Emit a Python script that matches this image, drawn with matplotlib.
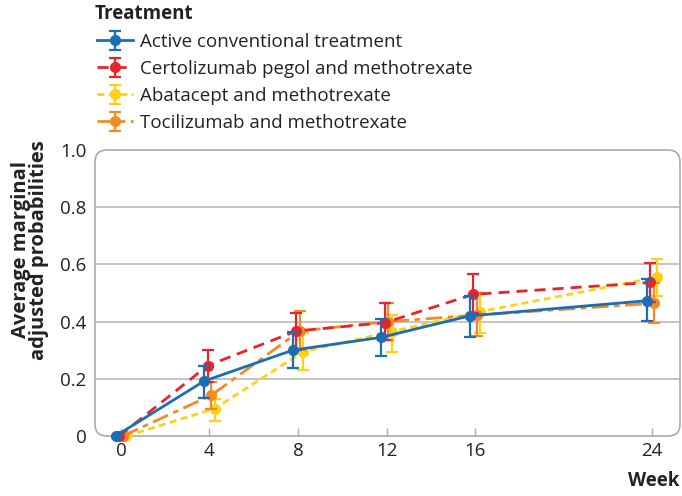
import matplotlib.pyplot as plt
import numpy as np
from matplotlib.patches import FancyBboxPatch

plt.rcParams['font.family'] = ['Open Sans', 'DejaVu Sans']

# weeks and average marginal adjusted probabilities
weeks = [0, 4, 8, 12, 16, 24]
names = ['Active conventional treatment', 'Certolizumab pegol and methotrexate',
         'Abatacept and methotrexate', 'Tocilizumab and methotrexate']

active = [0, 0.192, 0.300, 0.345, 0.420, 0.473]
active_lo = [np.nan, 0.134, 0.237, 0.280, 0.347, 0.402]
active_hi = [np.nan, 0.245, 0.365, 0.409, 0.490, 0.549]

certo = [0, 0.246, 0.367, 0.396, 0.495, 0.537]
certo_lo = [np.nan, 0.190, 0.300, 0.336, 0.430, 0.470]
certo_hi = [np.nan, 0.300, 0.431, 0.464, 0.565, 0.606]

abata = [0, 0.096, 0.295, 0.365, 0.435, 0.555]
abata_lo = [np.nan, 0.054, 0.231, 0.293, 0.360, 0.490]
abata_hi = [np.nan, 0.130, 0.360, 0.423, 0.500, 0.619]

toci = [0, 0.142, 0.367, 0.400, 0.423, 0.464]
toci_lo = [np.nan, 0.095, 0.300, 0.335, 0.350, 0.394]
toci_hi = [np.nan, 0.188, 0.437, 0.465, 0.500, 0.534]

colors = ['#1b6db5', '#e8232b', '#fcd116', '#f28a25']
styles = ['-', (0, (4, 2.5)), (0, (2.5, 1.6)), (0, (6, 2, 2, 2))]
offsets = [-0.24, -0.08, 0.24, 0.08]

W, H = 682, 496
fig = plt.figure(figsize=(W / 100, H / 100), dpi=100)
L, R, B, T = 95, 680, 436, 150
ax = fig.add_axes([L / W, 1 - B / H, (R - L) / W, (B - T) / H])

ax.set_xlim(-1.17, 25.26)
ax.set_ylim(0, 1)
for s in ax.spines.values():
    s.set_visible(False)

# rounded frame
aw, ah = R - L, B - T
r = 12
frame = FancyBboxPatch((0, 0), 1, 1, boxstyle='round,pad=0,rounding_size=%f' % (r / aw),
                       mutation_aspect=aw / ah, transform=ax.transAxes,
                       fc='none', ec='#aaaaaa', lw=1.2, clip_on=False, zorder=1)
ax.add_patch(frame)
for g in [0.2, 0.4, 0.6, 0.8]:
    ax.axhline(g, color='#b3b3b3', lw=1.1, zorder=1)

series = [(active, active_lo, active_hi), (certo, certo_lo, certo_hi),
          (abata, abata_lo, abata_hi), (toci, toci_lo, toci_hi)]
handles = []
zmap = {0: 6, 1: 5, 2: 3, 3: 4}
for i in range(4):
    y, lo, hi = [np.array(v, dtype=float) for v in series[i]]
    x = np.array(weeks) + offsets[i]
    yerr = [y - lo, hi - y]
    h = ax.errorbar(x, y, yerr=yerr, color=colors[i], ls=styles[i], lw=2.0,
                    marker='o', ms=7, capsize=4, elinewidth=1.6, capthick=1.6,
                    clip_on=False, zorder=zmap[i], label=names[i])
    handles.append(h)

ax.set_xticks(weeks)
ax.set_yticks([0, 0.2, 0.4, 0.6, 0.8, 1.0])
ax.set_yticklabels(['0', '0.2', '0.4', '0.6', '0.8', '1.0'])
ax.tick_params(axis='x', direction='in', length=6, color='#aaaaaa', width=1,
               labelsize=13.5, labelcolor='#222222', pad=4)
ax.tick_params(axis='y', length=0, labelsize=13.5, labelcolor='#222222', pad=6)

fig.text(30 / W, 1 - 250 / H, 'Average marginal\nadjusted probabilities', rotation=90,
         ha='center', va='center', fontsize=14.5, fontweight='bold', linespacing=0.85,
         color='#222222')
fig.text(R / W, 1 - 481 / H, 'Week', ha='right', va='center', fontsize=13.5,
         fontweight='bold', color='#222222')
fig.text(95 / W, 1 - 14 / H, 'Treatment', ha='left', va='center', fontsize=13.5,
         fontweight='bold', color='#222222')

leg = fig.legend(handles=handles, loc='upper left', bbox_to_anchor=(97 / W, 1 - 33 / H),
                 frameon=False, fontsize=13.5, handlelength=1.9, handletextpad=0.37,
                 labelspacing=0.48, borderaxespad=0, borderpad=0)
for t in leg.get_texts():
    t.set_color('#222222')

fig.savefig('out.png', dpi=100)
